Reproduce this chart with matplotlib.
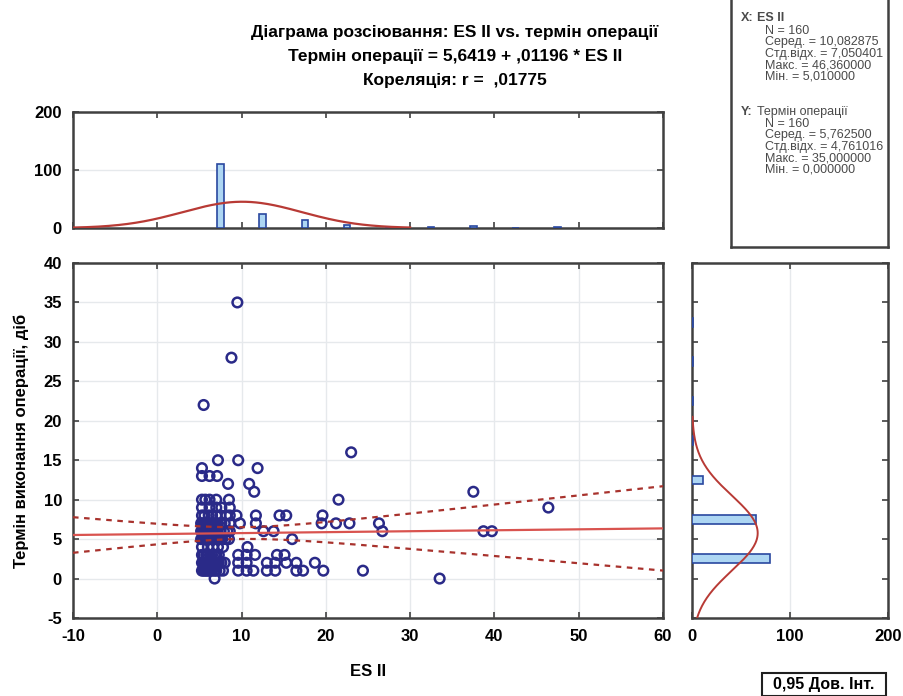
import numpy as np
import matplotlib
matplotlib.use("Agg")
import matplotlib.pyplot as plt
from matplotlib.patches import Rectangle

plt.rcParams['font.family'] = ['Liberation Sans', 'DejaVu Sans']
plt.rcParams['axes.unicode_minus'] = False

# DATA
# scatter: ES II values grouped by "термін операції" (days)
rows = {
    35: [9.5],
    28: [8.8],
    22: [5.5],
    16: [23.0],
    15: [7.2, 9.6],
    14: [5.3, 11.9],
    13: [5.3, 6.2, 7.1],
    12: [8.4, 10.9],
    11: [11.5, 37.5],
    10: [5.3, 5.7, 6.2, 7.0, 8.5, 21.5],
    9: [5.3, 6.2, 7.0, 7.6, 8.6, 46.4],
    8: [5.3, 5.6, 6.1, 6.5, 7.0, 7.5, 8.2, 8.6, 9.4, 11.7, 14.5, 15.3, 19.6],
    7: [5.2, 5.4, 5.6, 5.8, 6.0, 6.2, 6.4, 6.6, 6.8, 7.0, 7.2, 7.6, 8.0, 8.6,
        9.8, 11.7, 19.5, 21.2, 22.8, 26.3],
    6: [5.2, 5.4, 5.5, 5.7, 5.9, 6.1, 6.3, 6.5, 6.7, 6.9, 7.1, 7.5, 7.9, 8.3,
        8.6, 12.6, 13.8, 26.7, 38.7, 39.7],
    5: [5.2, 5.4, 5.5, 5.7, 5.8, 6.0, 6.1, 6.3, 6.5, 6.7, 6.9, 7.1, 7.3, 7.5,
        7.7, 8.1, 8.5, 16.0],
    4: [5.3, 6.0, 6.6, 7.2, 7.8, 10.7],
    3: [5.3, 5.5, 5.8, 6.0, 6.25, 6.5, 6.8, 7.0, 7.3, 9.6, 10.6, 11.6, 14.2, 15.1],
    2: [5.3, 5.5, 5.7, 5.9, 6.1, 6.3, 6.5, 6.7, 6.9, 7.1, 7.3, 7.6, 8.0, 9.6,
        10.6, 13.0, 14.0, 15.3, 16.5, 18.7],
    1: [5.3, 5.5, 5.7, 5.9, 6.1, 6.3, 6.5, 6.8, 7.0, 7.4, 7.8, 9.6, 10.6, 11.4,
        13.0, 14.0, 16.5, 17.3, 19.7, 24.4],
    0: [6.8, 33.5],
}
es2 = np.array([x for d, xs in rows.items() for x in xs])
days = np.array([d for d, xs in rows.items() for x in xs], dtype=float)

# histogram of ES II (bin centres, counts)
x_bins = [7.5, 12.5, 17.5, 22.5, 27.5, 32.5, 37.5, 42.5, 47.5]
x_counts = [111, 24, 13, 5, 2, 1, 3, 0, 1]
# histogram of days
y_bins = [2.5, 7.5, 12.5, 17.5, 22.5, 27.5, 32.5]
y_counts = [80, 65, 11, 1, 1, 1, 1]

# stats from the box
N = 160
x_mean, x_sd, x_max, x_min = 10.082875, 7.050401, 46.360000, 5.010000
y_mean, y_sd, y_max, y_min = 5.762500, 4.761016, 35.000000, 0.000000
a, b, r = 5.6419, 0.01196, 0.01775
T_CRIT = 1.975
BIN_W = 5

navy = '#2a2a88'
red_line = '#d9534f'
red_dash = '#a8322d'
bar_face = '#add6f3'
bar_edge = '#2a48a0'
spine_c = '#404040'

fig = plt.figure(figsize=(9.04, 6.96), dpi=100)

def fx(px):
    return px / 904

def fy(py):
    return 1 - py / 696

def style(ax):
    for s in ax.spines.values():
        s.set_color(spine_c)
        s.set_linewidth(1.8)
    ax.tick_params(direction='in', length=4, width=1.2, color=spine_c,
                   top=True, right=True, labelsize=12, pad=8)
    for lab in ax.get_xticklabels() + ax.get_yticklabels():
        lab.set_fontweight('bold')

# main scatter
ax = fig.add_axes([fx(73), fy(618), fx(663 - 73), (618 - 263) / 696])
ax.set_xlim(-10, 60)
ax.set_ylim(-5, 40)
ax.set_xticks(range(-10, 61, 10))
ax.set_yticks(range(-5, 41, 5))
ax.grid(True, color='#e6e9ec', lw=1)
ax.set_axisbelow(True)
ax.scatter(es2, days, s=48, facecolors='none', edgecolors=navy,
           linewidths=1.8, zorder=3)

xx = np.linspace(-10, 60, 200)
yy = a + b * xx
sxx = (N - 1) * x_sd ** 2
s_res = y_sd * np.sqrt(1 - r ** 2) * np.sqrt((N - 1) / (N - 2))
half = T_CRIT * s_res * np.sqrt(1 / N + (xx - x_mean) ** 2 / sxx)
ax.plot(xx, yy, color=red_line, lw=1.6, zorder=4)
ax.plot(xx, yy + half, color=red_dash, lw=1.6, ls=(0, (2.5, 2.5)), zorder=4)
ax.plot(xx, yy - half, color=red_dash, lw=1.6, ls=(0, (2.5, 2.5)), zorder=4)
style(ax)
ax.set_xlabel('ES II', fontsize=12, fontweight='bold', labelpad=14)
ax.set_ylabel('Термін виконання операції, діб', fontsize=12,
              fontweight='bold', labelpad=10)

# top histogram
axt = fig.add_axes([fx(73), fy(228), fx(663 - 73), (228 - 112) / 696])
axt.bar(x_bins, x_counts, width=0.75, color=bar_face, edgecolor=bar_edge,
        lw=1.2, zorder=3)
cx = np.linspace(-10, 30, 200)
axt.plot(cx, N * BIN_W * np.exp(-0.5 * ((cx - x_mean) / x_sd) ** 2)
         / (x_sd * np.sqrt(2 * np.pi)), color='#b83a35', lw=1.6, zorder=4)
axt.set_xlim(-10, 60)
axt.set_ylim(0, 200)
axt.set_xticks(range(-10, 61, 10))
axt.set_yticks([0, 100, 200])
axt.grid(True, axis='y', color='#e6e9ec', lw=1)
axt.set_axisbelow(True)
style(axt)
axt.tick_params(labelbottom=False)

# right histogram
axr = fig.add_axes([fx(692), fy(618), fx(888 - 692), (618 - 263) / 696])
axr.barh(y_bins, y_counts, height=1.1, color=bar_face, edgecolor=bar_edge,
         lw=1.2, zorder=3)
cy = np.linspace(-5, 20.5, 200)
axr.plot(N * BIN_W * np.exp(-0.5 * ((cy - y_mean) / y_sd) ** 2)
         / (y_sd * np.sqrt(2 * np.pi)), cy, color='#b83a35', lw=1.4, zorder=4)
axr.set_xlim(0, 200)
axr.set_ylim(-5, 40)
axr.set_xticks([0, 100, 200])
axr.set_yticks(range(-5, 41, 5))
axr.grid(True, axis='x', color='#e6e9ec', lw=1)
axr.set_axisbelow(True)
style(axr)
axr.tick_params(labelleft=False)

# stats box
axs = fig.add_axes([fx(731), fy(247), fx(888 - 731), 0.4])
axs.set_xticks([])
axs.set_yticks([])
for s in axs.spines.values():
    s.set_color(spine_c)
    s.set_linewidth(1.8)

def fmt(v):
    return f'{v:.6f}'.replace('.', ',')

lines_x = ['N = %d' % N, 'Серед. = ' + fmt(x_mean), 'Стд.відх. = ' + fmt(x_sd),
           'Макс. = ' + fmt(x_max), 'Мін. = ' + fmt(x_min)]
lines_y = ['N = %d' % N, 'Серед. = ' + fmt(y_mean), 'Стд.відх. = ' + fmt(y_sd),
           'Макс. = ' + fmt(y_max), 'Мін. = ' + fmt(y_min)]
tc = '#4a4a4a'
fs = 9
fig.text(fx(741), fy(18), 'X:', fontsize=fs, color=tc, va='center',
         fontweight='bold')
fig.text(fx(757), fy(18), 'ES II', fontsize=fs, color=tc, va='center',
         fontweight='bold')
for i, t in enumerate(lines_x):
    tx = axs.text(fx(765), fy(31 + 11.4 * i), t, fontsize=fs, color=tc,
                  va='center', transform=fig.transFigure, clip_on=True)
    tx.set_clip_box(axs.bbox)
fig.text(fx(741), fy(112), 'Y:', fontsize=fs, color=tc, va='center',
         fontweight='bold')
fig.text(fx(757), fy(112), 'Термін операції', fontsize=fs, color=tc,
         va='center')
for i, t in enumerate(lines_y):
    tx = axs.text(fx(765), fy(124 + 11.4 * i), t, fontsize=fs, color=tc,
                  va='center', transform=fig.transFigure, clip_on=True)
    tx.set_clip_box(axs.bbox)

# titles
fig.text(fx(455), fy(33), 'Діаграма розсіювання: ES II vs. термін операції',
         ha='center', va='center', fontsize=12.5, fontweight='bold')
fig.text(fx(455), fy(56), 'Термін операції = 5,6419 + ,01196 * ES II',
         ha='center', va='center', fontsize=12.5, fontweight='bold')
fig.text(fx(455), fy(80), 'Кореляція: r =  ,01775',
         ha='center', va='center', fontsize=12.5, fontweight='bold')

# legend box
fig.patches.append(Rectangle((fx(762), fy(696)), fx(886 - 762), 23 / 696,
                             transform=fig.transFigure, fill=False,
                             ec='#202020', lw=1.5))
fig.text(fx(824), fy(685), '0,95 Дов. Інт.', ha='center', va='center',
         fontsize=11.5, fontweight='bold')

fig.savefig('out.png', dpi=100)
